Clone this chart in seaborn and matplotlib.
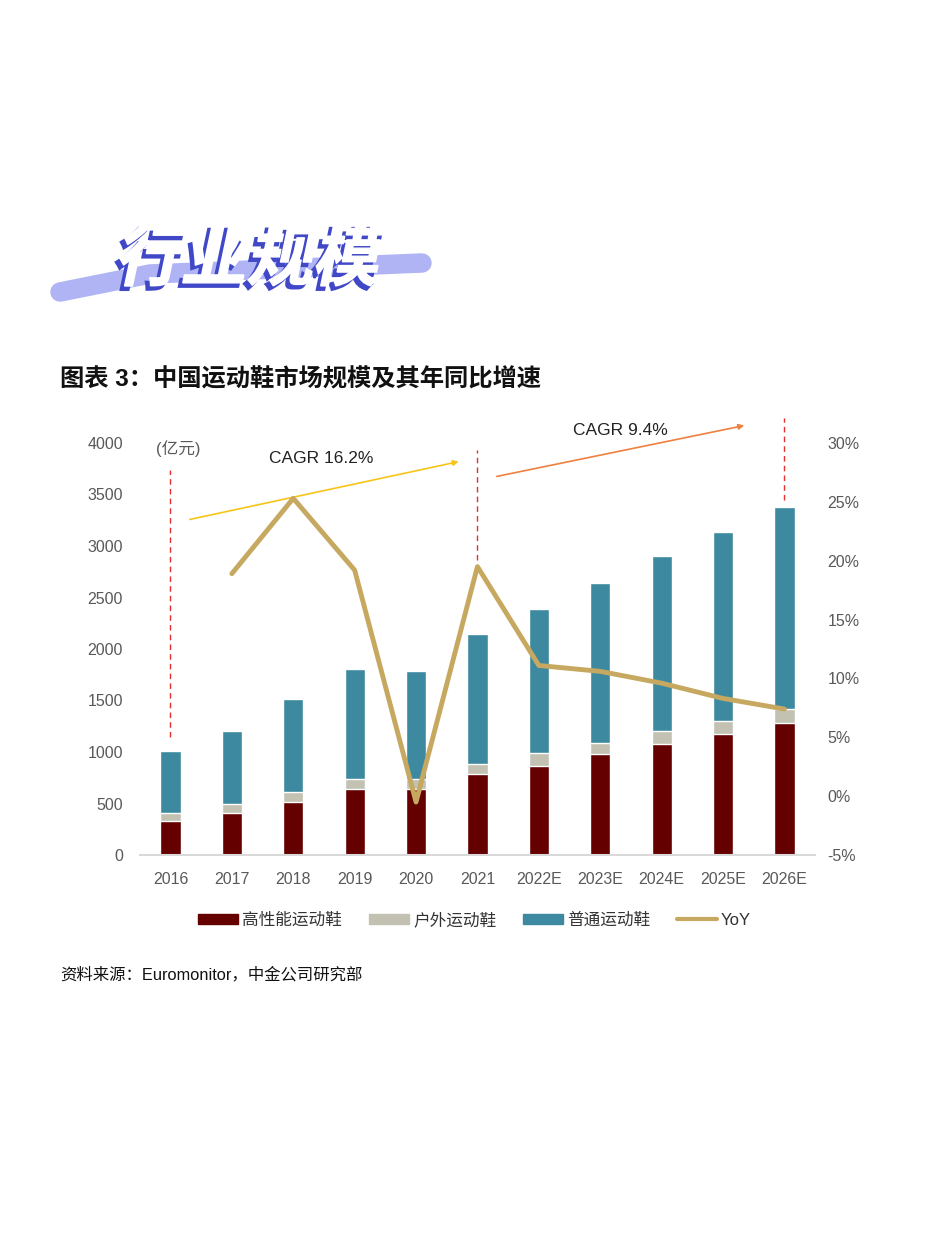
import seaborn as sns
import pandas as pd
import matplotlib.pyplot as plt
import numpy as np
from matplotlib.patches import Patch, PathPatch
from matplotlib.lines import Line2D
from matplotlib.textpath import TextPath
from matplotlib.font_manager import FontProperties
from matplotlib.transforms import Affine2D, IdentityTransform

# Data
years = ['2016', '2017', '2018', '2019', '2020', '2021', '2022E', '2023E', '2024E', '2025E', '2026E']
high_perf = [330, 405, 518, 637, 637, 783, 867, 977, 1078, 1175, 1285]
outdoor = [75, 90, 97, 98, 98, 97, 120, 113, 129, 129, 129]
regular = [605, 712, 896, 1067, 1055, 1262, 1398, 1550, 1696, 1835, 1961]
yoy = [None, 18.9, 25.3, 19.2, -0.5, 19.5, 11.1, 10.6, 9.6, 8.3, 7.4]
series_names = ['高性能运动鞋', '户外运动鞋', '普通运动鞋', 'YoY']
left_ticks = [0, 500, 1000, 1500, 2000, 2500, 3000, 3500, 4000]
right_ticks = [-5, 0, 5, 10, 15, 20, 25, 30]

c_hp, c_out, c_reg, c_yoy = '#640000', '#c3c2b2', '#3d89a0', '#c6a860'
grey = '#595959'

df = pd.DataFrame({'year': years, 'hp': high_perf, 'out': outdoor, 'reg': regular, 'yoy': yoy})
df['lvl2'] = df['hp'] + df['out']
df['total'] = df['lvl2'] + df['reg']
df['pos'] = np.arange(len(df))

sns.set_style('white')
plt.rcParams['font.family'] = ['Liberation Sans', 'Noto Sans CJK SC', 'DejaVu Sans']

fig = plt.figure(figsize=(9.38, 12.5), dpi=100)
ax = fig.add_axes([0.149, 0.316, 0.72, 0.3296])

# stacked bars drawn as overlapping cumulative totals
for col, c in [('total', c_reg), ('lvl2', c_out), ('hp', c_hp)]:
    sns.barplot(data=df, x='year', y=col, color=c, width=0.33, ax=ax, saturation=1)

ax.set_xlim(-0.5, len(years) - 0.5)
ax.set_ylim(0, 4000)
ax.set_yticks(left_ticks)
ax.set_xlabel('')
ax.set_ylabel('')
for s in ['top', 'right', 'left']:
    ax.spines[s].set_visible(False)
ax.spines['bottom'].set_color('#d9d9d9')
ax.spines['bottom'].set_linewidth(1.5)
ax.tick_params(axis='both', length=0, labelsize=11.5, labelcolor=grey)
ax.tick_params(axis='x', pad=12)
ax.tick_params(axis='y', pad=12)

ax2 = ax.twinx()
sns.lineplot(data=df.dropna(), x='pos', y='yoy', color=c_yoy, linewidth=3.5, ax=ax2)
ax2.set_ylim(-5, 30)
ax2.set_yticks(right_ticks)
ax2.set_yticklabels([f'{t}%' for t in right_ticks])
ax2.set_xlim(-0.5, len(years) - 0.5)
ax2.set_ylabel('')
ax2.set_xlabel('')
for s in ['top', 'right', 'left', 'bottom']:
    ax2.spines[s].set_visible(False)
ax2.tick_params(axis='y', length=0, labelsize=11.5, labelcolor=grey, pad=9)

# annotations: dashed markers, CAGR arrows
ax.vlines(0, 1146, 3738, colors='#e03030', linestyles=(0, (4, 3)), linewidth=1)
ax.vlines(5, 2864, 3932, colors='#e03030', linestyles=(0, (4, 3)), linewidth=1)
ax.vlines(10, 3447, 4243, colors='#e03030', linestyles=(0, (4, 3)), linewidth=1, clip_on=False)
ax.annotate('', xy=(4.74, 3825), xytext=(0.27, 3252), annotation_clip=False,
            arrowprops=dict(arrowstyle='-|>', color='#f5c518', lw=1.2, mutation_scale=8))
ax.annotate('', xy=(9.39, 4175), xytext=(5.27, 3670), annotation_clip=False,
            arrowprops=dict(arrowstyle='-|>', color='#f08040', lw=1.2, mutation_scale=8))
ax.text(2.46, 3845, 'CAGR 16.2%', ha='center', va='center', fontsize=12.5, color='#222222')
ax.text(7.32, 4117, 'CAGR 9.4%', ha='center', va='center', fontsize=12.5, color='#222222', clip_on=False)
ax.text(0.12, 3942, '(亿元)', ha='center', va='center', fontsize=12, color=grey)

handles = [Patch(color=c_hp), Patch(color=c_out), Patch(color=c_reg),
           Line2D([0], [0], color=c_yoy, lw=3)]
fig.legend(handles, series_names, loc='center', bbox_to_anchor=(0.506, 0.264), ncol=4,
           frameon=False, fontsize=12, handlelength=2.4, handleheight=0.6,
           handletextpad=0.25, columnspacing=1.6, labelcolor='#333333')

# headings
fig.text(60 / 938, 1 - 380 / 1250, '图表 3：中国运动鞋市场规模及其年同比增速', fontsize=17.5,
         fontweight='bold', va='center', ha='left', color='#111111')
fig.text(60 / 938, 1 - 975 / 1250, '资料来源：Euromonitor，中金公司研究部', fontsize=11.8,
         va='center', ha='left', color='#111111')

# decorative banner
brush = Line2D([60, 150, 300, 422], [1250 - 292, 1250 - 274, 1250 - 268, 1250 - 263],
               color='#b0b4f4', lw=14, solid_capstyle='round', solid_joinstyle='round',
               transform=IdentityTransform(), zorder=0)
fig.add_artist(brush)
fp = FontProperties(family='Noto Sans CJK SC', weight='black')
tp = TextPath((0, 0), '行业规模', size=66, prop=fp)
base = Affine2D().skew_deg(12, 0)
fig.add_artist(PathPatch(tp, facecolor='#4048c8', edgecolor='#4048c8', lw=1.5, zorder=1,
                         transform=base + Affine2D().translate(110, 1250 - 284)))
fig.add_artist(PathPatch(tp, facecolor='white', edgecolor='white', lw=1, zorder=2,
                         transform=base + Affine2D().translate(114, 1250 - 280)))

fig.savefig('out.png', dpi=100)
